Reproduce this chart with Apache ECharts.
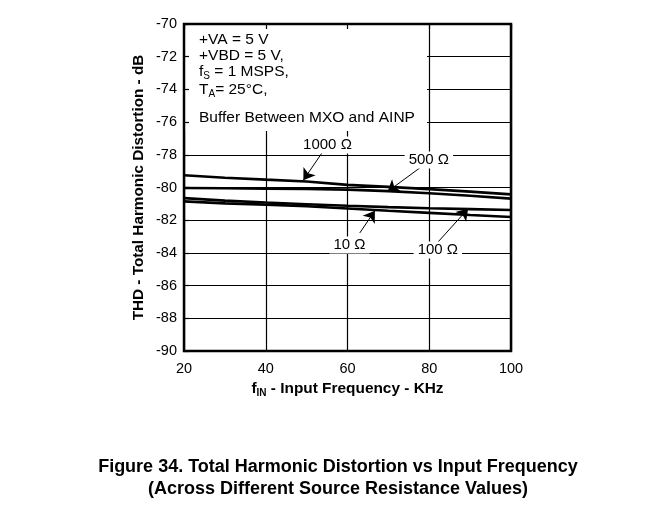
<!DOCTYPE html>
<html>
<head>
<meta charset="utf-8">
<script src="https://cdn.jsdelivr.net/npm/echarts@6/dist/echarts.min.js"></script>
<style>html,body{margin:0;padding:0;background:#fff}#c{width:669px;height:507px}</style>
</head>
<body>
<div id="c"></div>
<script>
var freq = [20, 30, 40, 50, 60, 70, 80, 90, 100];
var r1000 = [-79.25, -79.4, -79.52, -79.63, -79.84, -79.96, -80.1, -80.25, -80.42];
var r500  = [-80.03, -80.05, -80.07, -80.09, -80.13, -80.22, -80.35, -80.5, -80.68];
var r100  = [-80.65, -80.8, -80.92, -81.02, -81.12, -81.2, -81.27, -81.32, -81.38];
var r10   = [-80.85, -80.97, -81.05, -81.15, -81.28, -81.42, -81.55, -81.68, -81.8];
var seriesNames = ['1000 Ω', '500 Ω', '100 Ω', '10 Ω'];
// annotation: [label x, label y, arrow start x, arrow start y, arrow tip x, arrow tip y]
var notes = [
  [55.1, -77.4, 53.9, -77.83, 49.2, -79.55],
  [79.9, -78.32, 77.7, -78.8, 69.8, -80.25],
  [82.1, -83.82, 81.9, -83.4, 89.5, -81.3],
  [60.5, -83.52, 63, -82.78, 66.7, -81.42]
];
var infoLines = [
  '{n|+VA = 5 V}',
  '{n|+VBD = 5 V,}',
  '{n|f}{s|S}{n| = 1 MSPS,}',
  '{n|T}{s|A}{n|= 25°C,}',
  '{n|Buffer Between MXO and AINP}'
];
var titleLines = ['Figure 34. Total Harmonic Distortion vs Input Frequency', '(Across Different Source Resistance Values)'];
var yTicks = [-90, -70, 2];
var xTicks = [20, 100, 20];
var font = 'Liberation Sans, Arial, sans-serif';

function pairs(v){ return freq.map(function(f,i){ return [f, v[i]]; }); }
var allData = [r1000, r500, r100, r10];

var series = allData.map(function(v, i){
  var n = notes[i];
  return {
    name: seriesNames[i], type: 'line', data: pairs(v), symbol: 'none', smooth: false,
    lineStyle: {color: '#000', width: 2.6}, z: 3,
    markLine: {
      silent: true, symbol: ['none', 'arrow'], symbolSize: 11, animation: false,
      lineStyle: {color: '#000', width: 1, type: 'solid'}, label: {show: false},
      data: [[{coord: [n[2], n[3]]}, {coord: [n[4], n[5]]}]]
    },
    markPoint: {
      silent: true, symbol: 'rect', symbolSize: 1, itemStyle: {color: 'rgba(0,0,0,0)'}, animation: false,
      data: [{coord: [n[0], n[1]], label: {show: true, position: 'inside', formatter: seriesNames[i],
        color: '#000', fontFamily: font, fontSize: 15, backgroundColor: '#fff', padding: [1, 4]}}]
    }
  };
});

var infoY = [40, 56, 72, 90, 118];
var rich = {
  n: {fontFamily: font, fontSize: 15.5, color: '#000', fontWeight: 'normal'},
  s: {fontFamily: font, fontSize: 10, color: '#000', fontWeight: 'normal', verticalAlign: 'bottom', padding: [9, 0, 0, 0]}
};
var graphics = [{
  type: 'rect', z: 2, silent: true,
  shape: {x: 185, y: 25, width: 242, height: 106},
  style: {fill: '#fff'}
}];
infoLines.forEach(function(t, i){
  graphics.push({type: 'text', z: 6, silent: true, x: 199, y: infoY[i],
    style: {text: t, rich: rich, verticalAlign: 'middle', fill: '#000'}});
});
titleLines.forEach(function(t, i){
  graphics.push({type: 'text', z: 6, silent: true, x: 338, y: 467 + i * 22,
    style: {text: t, font: 'bold 18px ' + font, textAlign: 'center', textVerticalAlign: 'middle', fill: '#000'}});
});

var chart = echarts.init(document.getElementById('c'));
chart.setOption({
  animation: false,
  backgroundColor: '#fff',
  grid: {left: 184, right: 158, top: 24, bottom: 156, show: true, borderColor: '#000', borderWidth: 2.5, z: 4},
  graphic: {elements: graphics},
  xAxis: [{
    type: 'value', min: xTicks[0], max: xTicks[1], interval: xTicks[2], z: 1,
    axisLine: {show: false}, axisTick: {show: false},
    splitLine: {show: true, lineStyle: {color: '#000', width: 1.2}},
    axisLabel: {color: '#000', fontFamily: font, fontSize: 14.5, margin: 10},
    name: '{b|f}{sb|IN}{b| - Input Frequency - KHz}', nameLocation: 'middle', nameGap: 29,
    nameTextStyle: {rich: {
      b: {fontFamily: font, fontSize: 15.4, fontWeight: 'bold', color: '#000'},
      sb: {fontFamily: font, fontSize: 10, fontWeight: 'bold', color: '#000', verticalAlign: 'bottom', padding: [8, 0, 0, 0]}
    }}
  }, {
    type: 'value', position: 'top', min: xTicks[0], max: xTicks[1], interval: xTicks[2], z: 5,
    axisLine: {show: false}, axisLabel: {show: false}, splitLine: {show: false},
    axisTick: {show: true, inside: true, length: 5, lineStyle: {color: '#000', width: 1.2}}
  }],
  yAxis: [{
    type: 'value', min: yTicks[0], max: yTicks[1], interval: yTicks[2], z: 1,
    axisLine: {show: false}, axisTick: {show: false},
    splitLine: {show: true, lineStyle: {color: '#000', width: 1.2}},
    axisLabel: {color: '#000', fontFamily: font, fontSize: 14.5, margin: 7},
    name: 'THD - Total Harmonic Distortion - dB', nameLocation: 'middle', nameGap: 38,
    nameTextStyle: {fontFamily: font, fontSize: 15.3, fontWeight: 'bold', color: '#000'}
  }, {
    type: 'value', position: 'left', min: yTicks[0], max: yTicks[1], interval: yTicks[2], z: 5,
    axisLine: {show: false}, axisLabel: {show: false}, splitLine: {show: false},
    axisTick: {show: true, inside: true, length: 5, lineStyle: {color: '#000', width: 1.2}}
  }],
  series: series
});
</script>
</body>
</html>
